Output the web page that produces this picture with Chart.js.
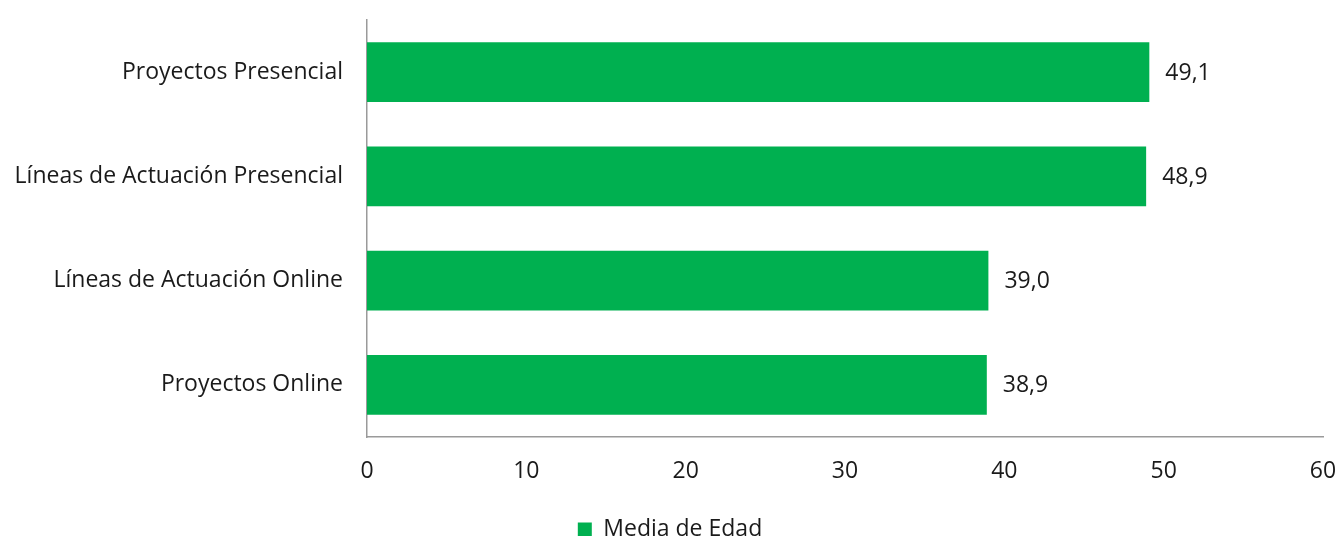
<!DOCTYPE html>
<html><head><meta charset="utf-8">
<script src="https://cdn.jsdelivr.net/npm/chart.js@4"></script>
<style>html,body{margin:0;padding:0;background:#fff;overflow:hidden}#w{width:1340px;height:551px}</style>
</head><body><div id="w"><canvas id="c"></canvas></div>
<script>
const categories = ["Proyectos Presencial","Líneas de Actuación Presencial","Líneas de Actuación Online","Proyectos Online"];
const values = [49.1, 48.9, 39.0, 38.9];
const seriesName = "Media de Edad";
const xTicks = [0,10,20,30,40,50,60];
const FONT = "'Open Sans', sans-serif";
const FS = 23;

const labelPlugin = {
  id: 'vlabels',
  afterDatasetsDraw(chart) {
    const ctx = chart.ctx;
    const meta = chart.getDatasetMeta(0);
    ctx.save();
    ctx.font = FS + "px " + FONT;
    ctx.fillStyle = "#1a1a1a";
    ctx.textAlign = "left";
    ctx.textBaseline = "middle";
    meta.data.forEach((el, i) => {
      ctx.fillText(values[i].toFixed(1).replace('.', ','), el.x + 16, el.y + 1);
    });
    ctx.restore();
  }
};

new Chart(document.getElementById('c'), {
  type: 'bar',
  data: { labels: categories, datasets: [{ label: seriesName, data: values, backgroundColor: '#00B050', borderWidth: 0, categoryPercentage: 1, barPercentage: 0.575 }] },
  options: {
    indexAxis: 'y', responsive: true, maintainAspectRatio: false, animation: false,
    layout: { padding: 0 },
    scales: {
      x: { min: 0, max: 60, afterBuildTicks(s){ s.ticks = xTicks.map(v=>({value:v})); },
           afterFit(s){ s.height = 73; s.paddingRight = 17; s.paddingLeft = 0; },
           grid: { display: false, drawTicks: false },
           border: { display: true, color: '#9a9a9a', width: 1.5 },
           ticks: { padding: 21, color: '#1a1a1a', font: { family: FONT, size: FS } } },
      y: { grid: { display: false, drawTicks: false },
           border: { display: true, color: '#9a9a9a', width: 1.5 },
           afterFit(s){ s.width = 367; s.paddingTop = 20; s.paddingBottom = 0; },
           ticks: { padding: 24, color: '#1a1a1a', font: { family: FONT, size: FS } } }
    },
    plugins: {
      legend: { position: 'bottom', labels: { boxWidth: 14, boxHeight: 14, padding: 8, color: '#1a1a1a', font: { family: FONT, size: FS } } },
      tooltip: { enabled: false }
    }
  },
  plugins: [labelPlugin]
});
</script></body></html>
